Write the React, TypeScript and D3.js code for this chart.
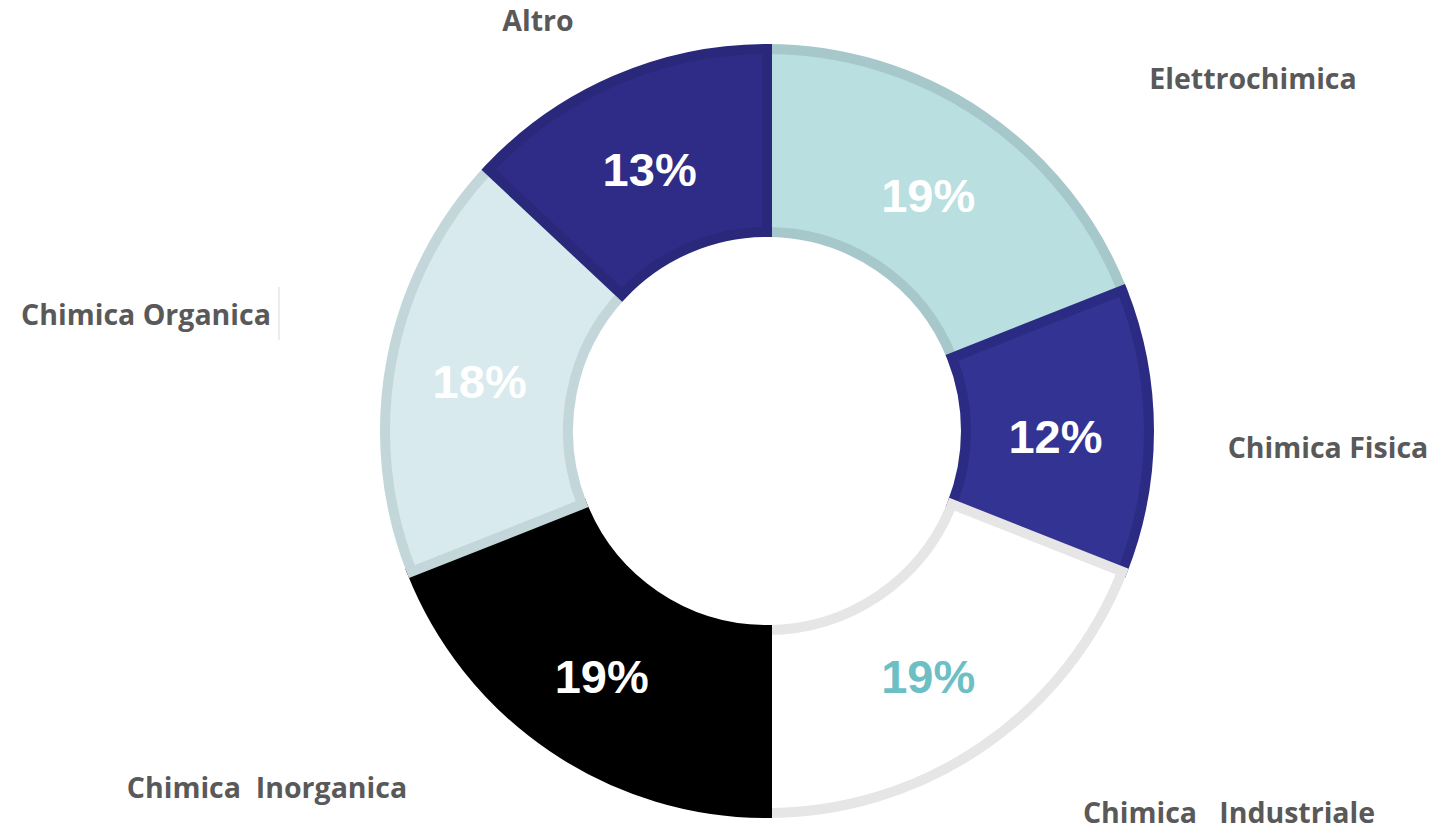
import React from "react";
import * as d3 from "d3";

const W = 1437;
const H = 830;
const CX = 767;
const CY = 431;
const R_OUT = 387;
const R_IN = 194;
const STROKE = 10;

// data
const categories = [
  "Elettrochimica",
  "Chimica Fisica",
  "Chimica   Industriale",
  "Chimica  Inorganica",
  "Chimica Organica",
  "Altro",
];
const values = [19, 12, 19, 19, 18, 13];
const fills = ["#b9dfe0", "#333393", "#ffffff", "#000000", "#d8eaed", "#2e2c86"];
const strokes = ["#a7c8cb", "#2c2b84", "#e6e6e6", "#000000", "#c3d6d9", "#29287a"];
const pctColors = ["#ffffff", "#ffffff", "#6cbfc4", "#ffffff", "#ffffff", "#ffffff"];

// outside category label anchors (text centre, baseline)
const labelPos: [number, number][] = [
  [1253, 89],
  [1328, 458],
  [1229, 823],
  [267, 798],
  [146, 325],
  [538, 31],
];

type Slice = { name: string; value: number; i: number };

export default function App() {
  const data: Slice[] = categories.map((name, i) => ({ name, value: values[i], i }));

  const pie = d3
    .pie<Slice>()
    .value((d) => d.value)
    .sort(null)
    .startAngle(0)
    .endAngle(2 * Math.PI);

  const arcs = pie(data);

  // stroke sits inside the slice edge
  const shape = d3
    .arc<d3.PieArcDatum<Slice>>()
    .innerRadius(R_IN + STROKE / 2)
    .outerRadius(R_OUT - STROKE / 2);

  const labelArc = d3
    .arc<d3.PieArcDatum<Slice>>()
    .innerRadius(R_IN)
    .outerRadius(R_OUT);

  return (
    <svg width={W} height={H} style={{ position: "absolute", left: 0, top: 0 }}>
      <rect width={W} height={H} fill="#ffffff" />
      <g transform={`translate(${CX},${CY})`}>
        {arcs.map((a) => (
          <path
            key={a.data.name}
            d={shape(a) || ""}
            fill={fills[a.data.i]}
            stroke={strokes[a.data.i]}
            strokeWidth={STROKE}
            strokeLinejoin="miter"
          />
        ))}
        {arcs.map((a) => {
          const [x, y] = labelArc.centroid(a);
          return (
            <text
              key={"p" + a.data.name}
              x={x - 2}
              y={y + 5}
              textAnchor="middle"
              dominantBaseline="central"
              fontFamily="'Liberation Sans', Arial, sans-serif"
              fontWeight="bold"
              fontSize={47}
              fill={pctColors[a.data.i]}
            >
              {a.data.value}%
            </text>
          );
        })}
      </g>
      {categories.map((c, i) => (
        <text
          key={"l" + c}
          x={labelPos[i][0]}
          y={labelPos[i][1]}
          textAnchor="middle"
          fontFamily="'Open Sans', sans-serif"
          fontWeight={700}
          fontSize={28.5}
          fill="#595959"
          style={{ whiteSpace: "pre" }}
        >
          {c}
        </text>
      ))}
      <line x1={279} x2={279} y1={287} y2={340} stroke="#d9d9d9" strokeWidth={1} />
    </svg>
  );
}
